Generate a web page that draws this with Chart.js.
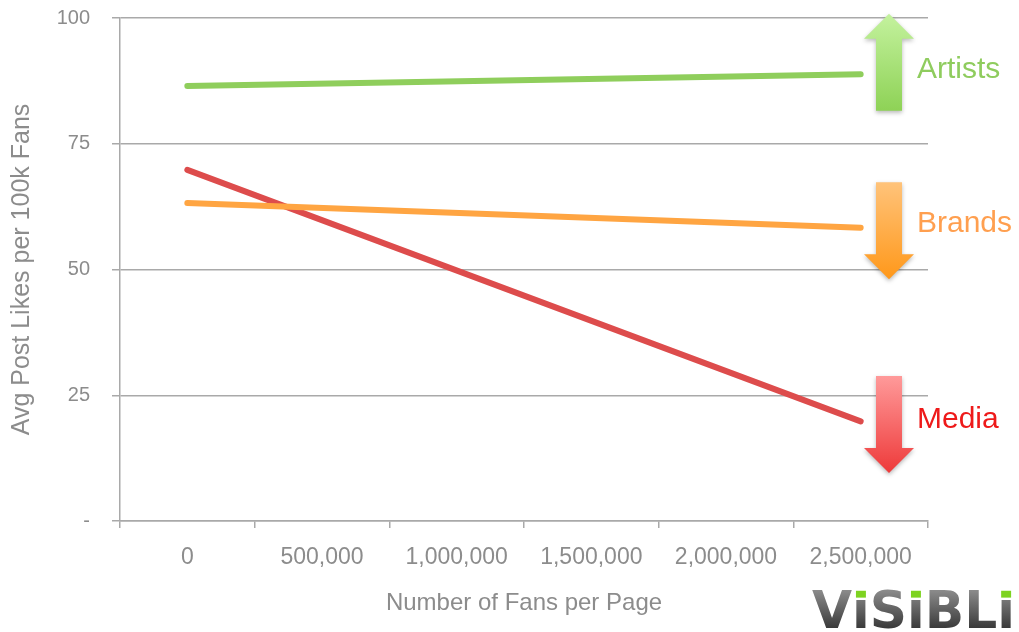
<!DOCTYPE html>
<html>
<head>
<meta charset="utf-8">
<script src="https://cdn.jsdelivr.net/npm/chart.js@4/dist/chart.umd.min.js"></script>
<style>
  html, body { margin: 0; padding: 0; background: #ffffff; }
  #wrap { width: 1019px; height: 632px; position: relative; }
</style>
</head>
<body>
<div id="wrap"><canvas id="chart"></canvas></div>
<script>
// Fan-count buckets along the x axis
const categories = ['0', '500,000', '1,000,000', '1,500,000', '2,000,000', '2,500,000'];

// Trend lines: value at the smallest and at the largest bucket
const artists = [86.5, null, null, null, null, 88.8];
const brands  = [63.2, null, null, null, null, 58.3];
const media   = [69.8, null, null, null, null, 19.8];

// Y axis ticks
const yTicks = [0, 25, 50, 75, 100];
const yTickLabels = ['-', '25', '50', '75', '100'];

const seriesNames = ['Artists', 'Brands', 'Media'];

const GRID = '#a9a9a9';
const TEXT = '#8c8c8c';
const FONT = '"Liberation Sans", Arial, Helvetica, sans-serif';

// Trend arrows with coloured captions beside the end of each line
const trendArrows = {
  id: 'trendArrows',
  afterDatasetsDraw(chart, args, opts) {
    const { ctx, chartArea, scales } = chart;
    const cx = chartArea.right - 39;
    const shaftW = 26, headW = 50, headLen = 25, len = 97;
    opts.items.forEach(item => {
      const ds = chart.data.datasets[item.dataset];
      const last = ds.data[ds.data.length - 1];
      const yEnd = scales.y.getPixelForValue(last);
      const yc = yEnd + item.shift;
      const top = yc - len / 2, bottom = yc + len / 2;
      ctx.save();
      ctx.beginPath();
      if (item.up) {
        ctx.moveTo(cx, top);
        ctx.lineTo(cx + headW / 2, top + headLen);
        ctx.lineTo(cx + shaftW / 2, top + headLen);
        ctx.lineTo(cx + shaftW / 2, bottom);
        ctx.lineTo(cx - shaftW / 2, bottom);
        ctx.lineTo(cx - shaftW / 2, top + headLen);
        ctx.lineTo(cx - headW / 2, top + headLen);
      } else {
        ctx.moveTo(cx - shaftW / 2, top);
        ctx.lineTo(cx + shaftW / 2, top);
        ctx.lineTo(cx + shaftW / 2, bottom - headLen);
        ctx.lineTo(cx + headW / 2, bottom - headLen);
        ctx.lineTo(cx, bottom);
        ctx.lineTo(cx - headW / 2, bottom - headLen);
        ctx.lineTo(cx - shaftW / 2, bottom - headLen);
      }
      ctx.closePath();
      const g = ctx.createLinearGradient(0, top, 0, bottom);
      g.addColorStop(0, item.light);
      g.addColorStop(1, item.dark);
      ctx.shadowColor = 'rgba(0,0,0,0.28)';
      ctx.shadowBlur = 4;
      ctx.shadowOffsetY = 2;
      ctx.fillStyle = g;
      ctx.fill();
      ctx.restore();

      ctx.save();
      ctx.font = '30px ' + FONT;
      ctx.fillStyle = item.text;
      ctx.textAlign = 'left';
      ctx.textBaseline = 'middle';
      ctx.fillText(seriesNames[item.dataset], chartArea.right - 11, yEnd + item.labelShift);
      ctx.restore();
    });
  }
};

// Company wordmark in the lower right corner
const wordmark = {
  id: 'wordmark',
  afterDraw(chart) {
    const { ctx } = chart;
    const text = 'V\u0131S\u0131BL\u0131';
    ctx.save();
    ctx.font = 'bold 52px "DejaVu Sans", sans-serif';
    const w = ctx.measureText(text).width;
    const x0 = 812, base = 628, targetW = 203;
    const sx = targetW / w;
    ctx.translate(x0, base);
    ctx.scale(sx, 0.98);
    const g = ctx.createLinearGradient(0, -38, 0, 0);
    g.addColorStop(0, '#8a8a8a');
    g.addColorStop(1, '#3a3a3a');
    ctx.fillStyle = g;
    ctx.textBaseline = 'alphabetic';
    ctx.fillText(text, 0, 0);
    // green tittles above each dotless i
    ctx.fillStyle = '#7ed321';
    for (let i = 0; i < text.length; i++) {
      if (text[i] === '\u0131') {
        const px = ctx.measureText(text.slice(0, i)).width;
        const iw = ctx.measureText('\u0131').width;
        ctx.fillRect(px + iw / 2 - 5, -38, 10, 7);
      }
    }
    ctx.restore();
  }
};

const lineStyle = (color) => ({
  borderColor: color,
  backgroundColor: color,
  borderWidth: 6,
  borderCapStyle: 'round',
  pointRadius: 0,
  pointHoverRadius: 0,
  spanGaps: true,
  tension: 0
});

new Chart(document.getElementById('chart'), {
  type: 'line',
  data: {
    labels: categories,
    datasets: [
      { label: seriesNames[0], data: artists, ...lineStyle('#8fce5c') },
      { label: seriesNames[1], data: brands,  ...lineStyle('#ffa542') },
      { label: seriesNames[2], data: media,   ...lineStyle('#dd4c4c') }
    ]
  },
  options: {
    responsive: true,
    maintainAspectRatio: false,
    animation: false,
    events: [],
    layout: { padding: { top: 18, right: 91, left: 0, bottom: 0 } },
    plugins: {
      legend: { display: false },
      tooltip: { enabled: false },
      trendArrows: {
        items: [
          { dataset: 0, up: true,  shift: -12, labelShift: -5, light: '#c4f29e', dark: '#8ed256', text: '#8fcc5e' },
          { dataset: 1, up: false, shift: 3,   labelShift: -4, light: '#ffc37a', dark: '#ff981a', text: '#ff9f4f' },
          { dataset: 2, up: false, shift: 3,   labelShift: -2, light: '#ff9a9a', dark: '#ee3a3a', text: '#ee1a1a' }
        ]
      }
    },
    scales: {
      x: {
        type: 'category',
        offset: true,
        grid: {
          offset: true,
          drawOnChartArea: false,
          drawTicks: true,
          tickLength: 7,
          color: GRID,
          lineWidth: 1.5
        },
        border: { display: true, color: GRID, width: 1.5 },
        ticks: {
          color: TEXT,
          font: { family: FONT, size: 23 },
          padding: 16,
          maxRotation: 0,
          autoSkip: false
        },
        title: {
          display: true,
          text: 'Number of Fans per Page',
          color: TEXT,
          font: { family: FONT, size: 24 },
          padding: { top: 0, bottom: 14 }
        },
        afterFit(scale) { scale.height = 111; }
      },
      y: {
        min: 0,
        max: 100,
        afterBuildTicks(scale) { scale.ticks = yTicks.map(v => ({ value: v })); },
        grid: {
          color: GRID,
          lineWidth: 1.5,
          tickLength: 8,
          drawTicks: true
        },
        border: { display: true, color: GRID, width: 1.5 },
        ticks: {
          color: TEXT,
          font: { family: FONT, size: 20 },
          padding: 22,
          callback(value) {
            const i = yTicks.indexOf(value);
            return i >= 0 ? yTickLabels[i] : '';
          }
        },
        title: {
          display: true,
          text: 'Avg Post Likes per 100k Fans',
          color: TEXT,
          font: { family: FONT, size: 25 },
          padding: { top: 7, bottom: 0 }
        },
        afterFit(scale) {
          scale.width = 120;
          scale.paddingTop = 12;
          scale.paddingBottom = 12;
        }
      }
    }
  },
  plugins: [trendArrows, wordmark]
});
</script>
</body>
</html>
